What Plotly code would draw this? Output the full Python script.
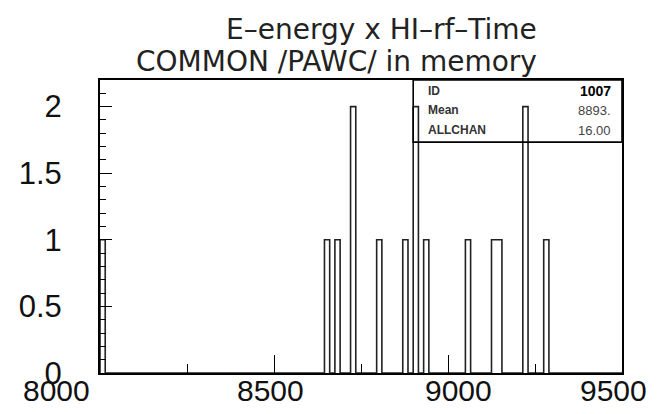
import numpy as np
import plotly.graph_objects as go

# histogram contents (100 bins of 15 from 8000 to 9500), only filled bins listed
bin_centers = [8007.5, 8652.5, 8682.5, 8727.5, 8802.5, 8877.5, 8907.5,
               8937.5, 9057.5, 9132.5, 9147.5, 9222.5, 9282.5]
bin_counts = [1, 1, 1, 2, 1, 1, 2, 1, 1, 1, 1, 2, 1]

x_min, x_max, bin_width = 8000, 9500, 15
x_tickvals = [8000, 8500, 9000, 9500]
y_tickvals = [0, 0.5, 1, 1.5, 2]
y_ticktext = ["0", "0.5", "1", "1.5", "2"]

title_lines = ["E\u2013energy x HI\u2013rf\u2013Time", "COMMON /PAWC/ in memory"]
stat_names = ["ID", "Mean", "ALLCHAN"]
stat_values = ["1007", "8893.", "16.00"]

# build the full bin array and a step outline like PAW draws it
edges = np.arange(x_min, x_max + bin_width, bin_width)
counts = np.zeros(len(edges) - 1)
for c, n in zip(bin_centers, bin_counts):
    counts[int((c - x_min) // bin_width)] = n
step_x = np.concatenate([[edges[0]], edges])
step_y = np.concatenate([[0], counts, [counts[-1]]])

fig = go.Figure(go.Scatter(
    x=step_x, y=step_y, mode="lines", line_shape="hv",
    line=dict(color="#222222", width=1.6), hoverinfo="skip",
))

font_main = "Liberation Sans"
font_title = "DejaVu Sans"

fig.update_layout(
    width=662, height=414,
    margin=dict(l=92, r=48, t=72, b=49),
    paper_bgcolor="white", plot_bgcolor="white",
    showlegend=False,
    xaxis=dict(
        range=[x_min, x_max], showgrid=False, zeroline=False,
        showline=True, linecolor="black", linewidth=2, mirror=True,
        ticks="inside", tickvals=x_tickvals, ticklen=18, tickcolor="black",
        tickwidth=1.3, showticklabels=False,
        minor=dict(dtick=250, ticks="inside", ticklen=9, tickcolor="black"),
    ),
    yaxis=dict(
        range=[0, 2.2], showgrid=False, zeroline=False,
        showline=True, linecolor="black", linewidth=2, mirror=True,
        ticks="inside", tickvals=y_tickvals, ticktext=y_ticktext,
        ticklen=12, tickcolor="black", tickwidth=1.3,
        minor=dict(dtick=0.1, ticks="inside", ticklen=6, tickcolor="black"),
        tickfont=dict(family=font_main, size=31, color="#111111"),
        ticklabelstandoff=30,
    ),
)

# x tick labels as PAW placed them (slightly off the ticks)
x_label_shift = [-44, -4, 10, -9]
for v, s in zip(x_tickvals, x_label_shift):
    fig.add_annotation(x=v, y=0, xref="x", yref="paper", text=str(v),
                       showarrow=False, xanchor="center", yanchor="top",
                       xshift=s, yshift=0, borderpad=0,
                       font=dict(family=font_main, size=30, color="#111111"))

# two-line title, right aligned
for i, t in enumerate(title_lines):
    fig.add_annotation(x=0.84, y=1, xref="paper", yref="paper", text=t,
                       showarrow=False, xanchor="right", yanchor="bottom",
                       yshift=33 - 32 * i, borderpad=0,
                       font=dict(family=font_title, size=28, color="#222222"))

# statistics box
fig.add_shape(type="rect", xref="paper", yref="paper",
              x0=0.6, x1=1, y0=0.788, y1=1,
              line=dict(color="black", width=1.6), fillcolor="rgba(0,0,0,0)")
for i, (name, val) in enumerate(zip(stat_names, stat_values)):
    y = 0.963 - i * 0.067
    fig.add_annotation(x=0.625, y=y, xref="paper", yref="paper", text="<b>" + name + "</b>",
                       showarrow=False, xanchor="left", yanchor="middle",
                       font=dict(family=font_main, size=12, color="#333333"))
    fig.add_annotation(x=0.982, y=y, xref="paper", yref="paper",
                       text="<b>" + val + "</b>" if i == 0 else val,
                       showarrow=False, xanchor="right", yanchor="middle",
                       font=dict(family=font_main, size=14 if i == 0 else 13,
                                 color="black" if i == 0 else "#444444"))

fig.write_html("out.html")
